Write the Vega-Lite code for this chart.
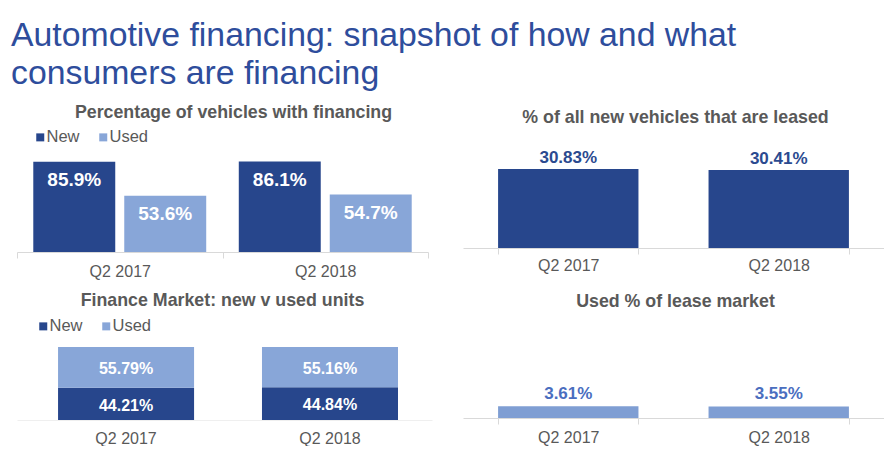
{
  "$schema": "https://vega.github.io/schema/vega-lite/v6.json",
  "background": "white",
  "padding": {"left": 11, "top": 19, "right": 0, "bottom": 0},
  "title": {
    "text": ["Automotive financing: snapshot of how and what", "consumers are financing"],
    "anchor": "start",
    "frame": "group",
    "fontSize": 33.8,
    "fontWeight": "normal",
    "font": "Liberation Sans",
    "color": "#2E4D9C",
    "lineHeight": 38,
    "dx": -6,
    "offset": 13
  },
  "config": {
    "font": "Liberation Sans",
    "view": {"stroke": null},
    "title": {"font": "Liberation Sans", "fontSize": 17.8, "fontWeight": "bold", "color": "#595959", "anchor": "middle"},
    "axis": {
      "domainColor": "#D9D9D9",
      "tickColor": "#D9D9D9",
      "tickSize": 6,
      "labelFont": "Liberation Sans",
      "labelFontSize": 16,
      "labelColor": "#595959",
      "title": null,
      "labelAngle": 0,
      "grid": false
    },
    "legend": {
      "orient": "none",
      "direction": "horizontal",
      "title": null,
      "symbolType": "square",
      "symbolSize": 64,
      "symbolStrokeWidth": 0,
      "labelFont": "Liberation Sans",
      "labelFontSize": 16.5,
      "labelColor": "#595959",
      "labelOffset": -2,
      "columnPadding": 15,
      "padding": 0
    }
  },
  "columns": 2,
  "bounds": "flush",
  "align": "each",
  "spacing": {"row": 68, "column": 31},
  "resolve": {"scale": {"color": "independent"}, "legend": {"color": "independent"}},
  "concat": [
    {
      "width": 411,
      "height": 124,
      "title": {"text": "Percentage of vehicles with financing", "offset": 6, "dx": 11},
      "data": {"values": [
        {"period": "Q2 2017", "type": "New", "value": 85.9, "label": "85.9%"},
        {"period": "Q2 2017", "type": "Used", "value": 53.6, "label": "53.6%"},
        {"period": "Q2 2018", "type": "New", "value": 86.1, "label": "86.1%"},
        {"period": "Q2 2018", "type": "Used", "value": 54.7, "label": "54.7%"}
      ]},
      "encoding": {
        "x": {"field": "period", "type": "nominal", "scale": {"paddingInner": 0, "paddingOuter": 0}, "axis": {"tickBand": "extent", "labelPadding": 5}},
        "xOffset": {"field": "type", "type": "nominal", "scale": {"paddingInner": 0.099, "paddingOuter": 0.179}},
        "y": {"field": "value", "type": "quantitative", "scale": {"domain": [0, 118], "nice": false}, "axis": null}
      },
      "layer": [
        {
          "mark": {"type": "bar"},
          "encoding": {
            "color": {"field": "type", "type": "nominal", "scale": {"domain": ["New", "Used"], "range": ["#27468C", "#88A6D8"]}, "legend": {"legendX": 15, "legendY": 1}}
          }
        },
        {
          "mark": {"type": "text", "dy": 24, "baseline": "alphabetic", "fill": "white", "fontSize": 19, "fontWeight": "bold"},
          "encoding": {"text": {"field": "label"}}
        }
      ]
    },
    {
      "width": 421,
      "height": 120,
      "title": {"text": "% of all new vehicles that are leased", "offset": 1, "dx": 2},
      "data": {"values": [
        {"period": "Q2 2017", "value": 30.83, "label": "30.83%"},
        {"period": "Q2 2018", "value": 30.41, "label": "30.41%"}
      ]},
      "encoding": {
        "x": {"field": "period", "type": "nominal", "scale": {"paddingInner": 0.333, "paddingOuter": 0.1667}, "axis": {"tickBand": "extent", "labelPadding": 3}},
        "y": {"field": "value", "type": "quantitative", "scale": {"domain": [0, 46.8], "nice": false}, "axis": null}
      },
      "layer": [
        {"mark": {"type": "bar", "color": "#27468C"}},
        {
          "mark": {"type": "text", "dy": -6, "baseline": "alphabetic", "fill": "#2B4A8F", "fontSize": 17, "fontWeight": "bold"},
          "encoding": {"text": {"field": "label"}}
        }
      ]
    },
    {
      "width": 415,
      "height": 100,
      "title": {"text": "Finance Market: new v used units", "offset": 8, "dx": -2},
      "data": {"values": [
        {"period": "Q2 2017", "type": "New", "value": 44.21, "label": "44.21%"},
        {"period": "Q2 2017", "type": "Used", "value": 55.79, "label": "55.79%"},
        {"period": "Q2 2018", "type": "New", "value": 44.84, "label": "44.84%"},
        {"period": "Q2 2018", "type": "Used", "value": 55.16, "label": "55.16%"}
      ]},
      "encoding": {
        "x": {"field": "period", "type": "nominal", "scale": {"paddingInner": 0.333, "paddingOuter": 0.184, "align": 0.547}, "axis": {"ticks": false, "domainColor": "#EFEFEF", "labelPadding": 10}},
        "y": {"field": "value", "type": "quantitative", "stack": "zero", "scale": {"domain": [0, 137], "nice": false}, "axis": null},
        "order": {"field": "type", "sort": "ascending"}
      },
      "layer": [
        {
          "mark": {"type": "bar"},
          "encoding": {
            "color": {"field": "type", "type": "nominal", "scale": {"domain": ["New", "Used"], "range": ["#27468C", "#88A6D8"]}, "legend": {"legendX": 18, "legendY": -2}}
          }
        },
        {
          "transform": [{"filter": "datum.type === 'New'"}],
          "mark": {"type": "text", "dy": 18, "baseline": "middle", "fill": "white", "fontSize": 16, "fontWeight": "bold"},
          "encoding": {"text": {"field": "label"}, "detail": {"field": "type"}}
        },
        {
          "mark": {"type": "text", "dy": 21.5, "baseline": "middle", "fill": "white", "fontSize": 16, "fontWeight": "bold"},
          "encoding": {
            "text": {"field": "label"},
            "detail": {"field": "type"},
            "opacity": {"condition": {"test": "datum.type === 'Used'", "value": 1}, "value": 0}
          }
        }
      ]
    },
    {
      "width": 421,
      "height": 98,
      "title": {"text": "Used % of lease market", "offset": 9, "dx": 2},
      "data": {"values": [
        {"period": "Q2 2017", "value": 3.61, "label": "3.61%"},
        {"period": "Q2 2018", "value": 3.55, "label": "3.55%"}
      ]},
      "encoding": {
        "x": {"field": "period", "type": "nominal", "scale": {"paddingInner": 0.333, "paddingOuter": 0.1667}, "axis": {"tickBand": "extent", "labelPadding": 5}},
        "y": {"field": "value", "type": "quantitative", "scale": {"domain": [0, 30.2], "nice": false}, "axis": null}
      },
      "layer": [
        {"mark": {"type": "bar", "color": "#7F9ED3"}},
        {
          "mark": {"type": "text", "dy": -7, "baseline": "alphabetic", "fill": "#4A6EBF", "fontSize": 17, "fontWeight": "bold"},
          "encoding": {"text": {"field": "label"}}
        }
      ]
    }
  ]
}
